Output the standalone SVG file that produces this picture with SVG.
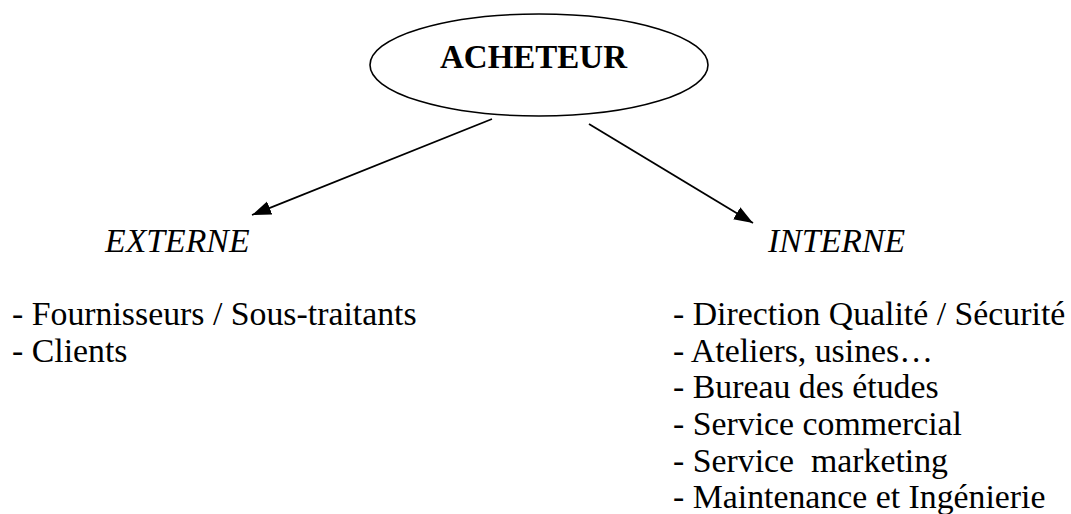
<svg xmlns="http://www.w3.org/2000/svg" width="1071" height="514" viewBox="0 0 1071 514">
  <style>
    .t { font-family: "Liberation Serif", "Times New Roman", serif; font-size: 33.8px; fill: #000; white-space: pre; }
    .b { font-weight: bold; font-size: 33px; }
    .i { font-style: italic; }
    .conn { stroke: #000; stroke-width: 1.8; fill: none; }
  </style>
  <defs>
    <marker id="arrow" markerUnits="userSpaceOnUse" markerWidth="20" markerHeight="16" refX="19" refY="8" orient="auto">
      <path d="M0,1 L19,8 L0,15 z" fill="#000"/>
    </marker>
  </defs>
  <rect width="1071" height="514" fill="#fff"/>
  <g id="acheteur">
    <ellipse cx="539" cy="65" rx="169" ry="51" fill="none" stroke="#000" stroke-width="1.6"/>
    <text class="t b" x="440" y="68">ACHETEUR</text>
  </g>
  <g id="connectors">
    <line class="conn" x1="492" y1="119" x2="252" y2="215" marker-end="url(#arrow)"/>
    <line class="conn" x1="589" y1="124" x2="753" y2="223" marker-end="url(#arrow)"/>
  </g>
  <g id="externe">
    <text class="t i" x="105" y="252">EXTERNE</text>
    <text class="t" x="12" y="325">- Fournisseurs / Sous-traitants</text>
    <text class="t" x="12" y="362">- Clients</text>
  </g>
  <g id="interne">
    <text class="t i" x="768" y="252">INTERNE</text>
    <text class="t" x="673" y="325">- Direction Qualité / Sécurité</text>
    <text class="t" x="673" y="362">- Ateliers, usines…</text>
    <text class="t" x="673" y="398">- Bureau des études</text>
    <text class="t" x="673" y="435">- Service commercial</text>
    <text class="t" x="673" y="472">- Service  marketing</text>
    <text class="t" x="673" y="508">- Maintenance et Ingénierie</text>
  </g>
</svg>
